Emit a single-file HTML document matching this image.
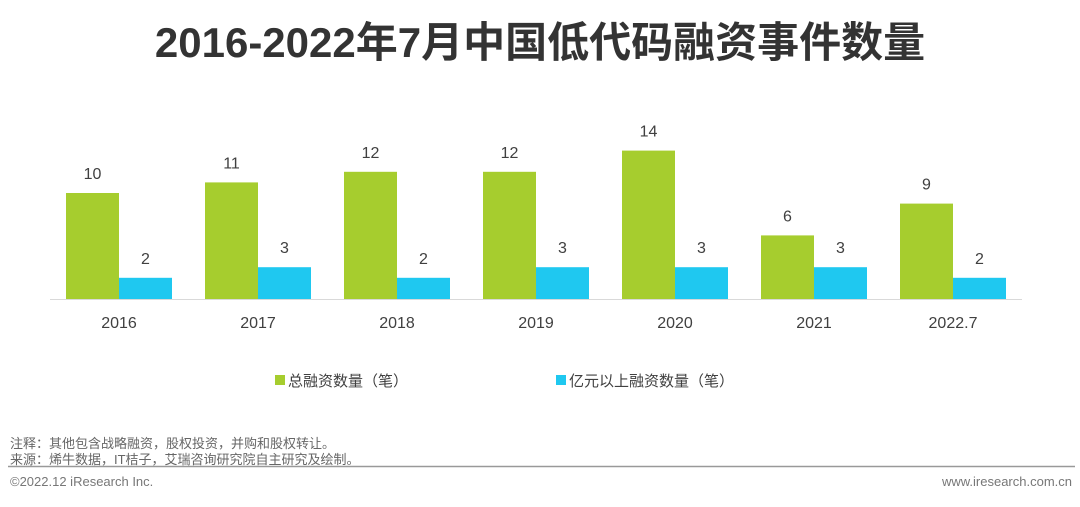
<!DOCTYPE html>
<html><head><meta charset="utf-8"><style>
body{margin:0;width:1080px;height:502px;background:#fff;overflow:hidden;font-family:"Liberation Sans","Noto Sans CJK SC",sans-serif;}
</style></head><body>
<svg width="1080" height="502" xmlns="http://www.w3.org/2000/svg">
<text x="540" y="57" text-anchor="middle" font-size="42" font-weight="bold" fill="#333" font-family="Liberation Sans,Noto Sans CJK SC,sans-serif">2016-2022年7月中国低代码融资事件数量</text>
<g id="bars"></g>
<line x1="50" y1="299.5" x2="1022" y2="299.5" stroke="#d9d9d9" stroke-width="1"/>
<g>
<rect x="275" y="375" width="10" height="10" fill="#a6cd2e"/>
<text x="288" y="386" font-size="15" fill="#404040">总融资数量（笔）</text>
<rect x="556" y="375" width="10" height="10" fill="#1fc8f0"/>
<text x="569" y="386" font-size="15" fill="#404040">亿元以上融资数量（笔）</text>
</g>
<text x="10" y="448" font-size="13" fill="#666">注释：其他包含战略融资，股权投资，并购和股权转让。</text>
<text x="10" y="464" font-size="13" fill="#666">来源：烯牛数据，IT桔子，艾瑞咨询研究院自主研究及绘制。</text>
<line x1="8" y1="466.5" x2="1075" y2="466.5" stroke="#999" stroke-width="1.5"/>
<text x="10" y="486" font-size="13" fill="#777">©2022.12 iResearch Inc.</text>
<text x="1072" y="486" text-anchor="end" font-size="13" fill="#777">www.iresearch.com.cn</text>
</svg>
<script>
const categories=["2016","2017","2018","2019","2020","2021","2022.7"];
const totalDeals=[10,11,12,12,14,6,9];
const largeDeals=[2,3,2,3,3,3,2];
const ns="http://www.w3.org/2000/svg";
const g=document.getElementById("bars");
const base=299, unit=10.6, x0=66, pitch=139, bw=53;
function y(v){return base-v*unit;}
function mk(t,a){const e=document.createElementNS(ns,t);for(const k in a)e.setAttribute(k,a[k]);g.appendChild(e);return e;}
categories.forEach((c,i)=>{
  const gx=x0+i*pitch;
  const r1=mk("rect",{x:gx,y:y(totalDeals[i]),width:bw,height:totalDeals[i]*unit,fill:"#a6cd2e"});
  
  
  const r2=mk("rect",{x:gx+bw,y:y(largeDeals[i]),width:bw,height:largeDeals[i]*unit,fill:"#1fc8f0"});
  
  
  const t1=mk("text",{x:gx+bw/2,y:y(totalDeals[i])-14,"text-anchor":"middle","font-size":"16",fill:"#404040"});
  t1.textContent=totalDeals[i];
  
  
  const t2=mk("text",{x:gx+bw*1.5,y:y(largeDeals[i])-14,"text-anchor":"middle","font-size":"16",fill:"#404040"});
  t2.textContent=largeDeals[i];
  
  
  const t3=mk("text",{x:gx+bw,y:328,"text-anchor":"middle","font-size":"16",fill:"#404040"});
  t3.textContent=c;
  
  
});
</script>
</body></html>
